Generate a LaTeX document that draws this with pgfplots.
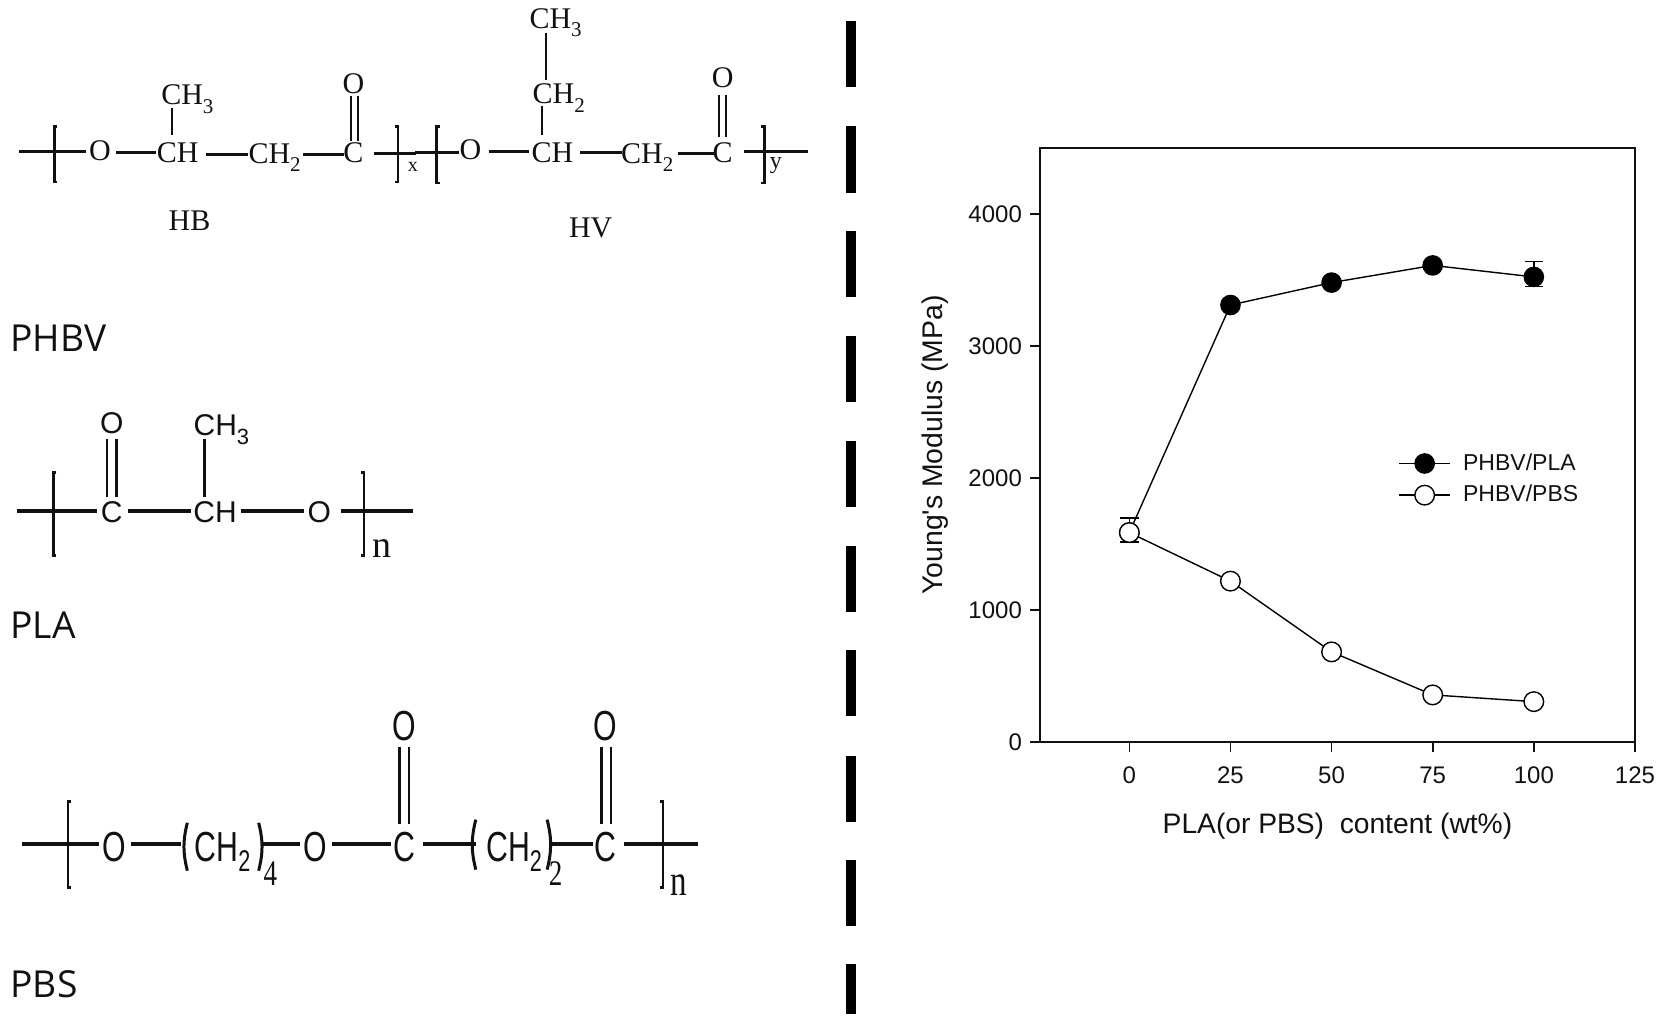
\documentclass[border=0pt]{standalone}
\usepackage{pgfplots}
\pgfplotsset{compat=1.18}
\usepackage{fontspec}
\setmainfont{Liberation Sans}
\newfontfamily\rawsans{Liberation Sans}
\newfontfamily\tms{Liberation Serif}
\newfontfamily\opn{Open Sans}
\definecolor{ink}{HTML}{111111}
\newcommand{\fs}[1]{\fontsize{#1}{#1}\selectfont}
% atom labels: x, y of the cap-height centre, text
\newcommand{\T}[3]{\node[anchor=base,inner sep=0pt,text=ink] at (#1,#2+9.5) {\tms\fs{15}#3};}
\newcommand{\A}[3]{\node[anchor=base,inner sep=0pt,text=ink] at (#1,#2+9.5) {\fs{15}#3};}
\newcommand{\N}[3]{\node[anchor=base,inner sep=0pt,text=ink] at (#1,#2+14) {\scalebox{.72}[1]{\fs{21}#3}};}
\newcommand{\subT}[1]{\raisebox{-.28em}{\fs{10.5}#1}}
\newcommand{\subA}[1]{\raisebox{-.28em}{\fs{11}#1}}
\newcommand{\subN}[1]{\raisebox{-.25em}{\fs{15}#1}}
\newcommand{\brL}[3]{\draw[line width=1.3pt,ink] (#1+3,#2)--(#1,#2)--(#1,#3)--(#1+3,#3);}
\newcommand{\brR}[3]{\draw[line width=1.3pt,ink] (#1-3,#2)--(#1,#2)--(#1,#3)--(#1-3,#3);}
\begin{document}
\begin{tikzpicture}
\begin{scope}[x=0.5322pt,y=-0.5322pt]
\path (0,0) rectangle (1568,958);
% divider
\foreach \a/\b in {20/82,118/181,217/279,316/378,414/476,513/575,611/673,710/772,808/870,906/953}
  \fill[black] (795,\a) rectangle (804,\b);
% ---------- PHBV
\begin{scope}[line width=1.5pt,ink]
\draw (18,142)--(81,142);
\draw (109,143.5)--(147,143.5);
\draw (194,145)--(233,145);
\draw (285,145)--(323,145);
\draw (351,144.5)--(391,144.5);
\draw (390,143.5)--(431,143.5);
\draw (459,142.5)--(497,142.5);
\draw (545,143.5)--(584,143.5);
\draw (637,144)--(671,144);
\draw (699,142)--(759,142);
\end{scope}
\begin{scope}[line width=1.05pt,ink]
\draw (162,101)--(162,127);
\draw (329.5,90)--(329.5,132);
\draw (336,90)--(336,132);
\draw (509,100)--(509,127);
\draw (513,31)--(513,75);
\draw (675.5,89)--(675.5,129);
\draw (682,89)--(682,129);
\end{scope}
\brL{51}{119}{171}
\brR{374}{119}{171}
\brL{410}{119}{172}
\brR{718}{119}{172}
\T{94}{141}{O}
\T{167}{143.5}{CH}
\T{176}{89}{CH\subT{3}}
\T{258}{144}{CH\subT{2}}
\T{332}{143.5}{C}
\T{332}{78}{O}
\node[inner sep=0pt,text=ink] at (388,157) {\tms\fs{10}x};
\T{442}{140}{O}
\T{519}{143.5}{CH}
\T{525}{88}{CH\subT{2}}
\T{522}{17}{CH\subT{3}}
\T{608}{144}{CH\subT{2}}
\T{679}{143.5}{C}
\T{679}{73}{O}
\node[inner sep=0pt,text=ink] at (729,156) {\tms\fs{12}y};
\T{178}{207}{HB}
\T{555}{214}{HV}
\node[anchor=base west,inner sep=0pt,text=ink] at (9.5,330) {\opn\fs{18.6}PHBV};
% ---------- PLA
\begin{scope}[line width=1.6pt,ink]
\draw (16,480)--(91,480);
\draw (120,480)--(179,480);
\draw (226,480)--(286,480);
\draw (320,480)--(388,480);
\draw (192,412)--(192,467);
\draw[line width=1.2pt] (100.5,412)--(100.5,467);
\draw[line width=1.2pt] (109.5,412)--(109.5,467);
\end{scope}
\brL{50}{444}{522}
\brR{342}{444}{522}
\A{105}{481}{C}
\A{202}{481}{CH}
\A{300}{481}{O}
\A{105}{398}{O}
\A{208}{400}{CH\subA{3}}
\node[anchor=base,inner sep=0pt,text=ink] at (359,524) {\tms\fs{19}n};
\node[anchor=base west,inner sep=0pt,text=ink] at (9.5,600) {\opn\fs{18.6}PLA};
% ---------- PBS
\begin{scope}[line width=1.9pt,ink]
\draw (21,793)--(93,793);
\draw (123,793)--(170,793);
\draw (245,793)--(282,793);
\draw (312,793)--(367,793);
\draw (397,793)--(447,793);
\draw (517,793)--(557,793);
\draw (586,793)--(656,793);
\end{scope}
\begin{scope}[line width=1.2pt,ink]
\draw (375.5,702)--(375.5,774);
\draw (384,702)--(384,774);
\draw (565,702)--(565,774);
\draw (574,702)--(574,774);
\draw[line width=1.5pt] (176,773) to[bend right=14] (176,818);
\draw[line width=1.5pt] (243,773) to[bend left=14] (243,818);
\draw[line width=1.5pt] (447,770) to[bend right=14] (447,817);
\draw[line width=1.5pt] (514,770) to[bend left=14] (514,817);
\end{scope}
\brL{64}{753}{834}
\brR{623}{753}{834}
\N{107}{795}{O}
\N{209}{795}{CH\subN{2}}
\node[anchor=base,inner sep=0pt,text=ink] at (254,832) {\scalebox{.75}[1]{\tms\fs{18}4}};
\N{296}{795}{O}
\N{380}{795}{C}
\N{380}{682}{O}
\N{483}{795}{CH\subN{2}}
\node[anchor=base,inner sep=0pt,text=ink] at (522,832) {\scalebox{.75}[1]{\tms\fs{18}2}};
\N{569}{795}{C}
\N{569}{682}{O}
\node[anchor=base,inner sep=0pt,text=ink] at (638,841) {\scalebox{.75}[1]{\tms\fs{22}n}};
\node[anchor=base west,inner sep=0pt,text=ink] at (9.5,937) {\opn\fs{18.6}PBS};
\end{scope}
% ---------- chart
\begin{axis}[
  at={(519.96pt,-370.94pt)}, anchor=south west,
  scale only axis, width=297.5pt, height=296.97pt,
  xmin=-22.1, xmax=125, ymin=0, ymax=4500,
  xtick={0,25,50,75,100,125}, ytick={0,1000,2000,3000,4000},
  tick align=outside, tick pos=left,
  major tick length=5pt,
  axis line style={line width=.8pt,color=ink},
  tick style={line width=.8pt,color=ink},
  tick label style={font=\fs{12}, /pgf/number format/assume math mode=true, /pgf/number format/1000 sep={}, text=ink},
  xticklabel style={yshift=-4pt},
  yticklabel style={xshift=-.5pt},
  xlabel={PLA(or PBS)\ \ content (wt\%)},
  ylabel={Young{\rawsans\char39}s Modulus (MPa)},
  xlabel style={font=\fs{14.1}, text=ink, at={(axis description cs:0.5,0)}, anchor=base, yshift=-46pt},
  ylabel style={font=\fs{14.2}, text=ink, at={(axis description cs:0,0.5)}, anchor=base, yshift=48.6pt},
  legend cell align=left,
  legend style={draw=none, fill=none, at={(axis cs:18,2000)}, font=\fs{11.5}, text=ink, anchor=west, xshift=98pt, yshift=-.7pt,
    row sep=2pt, inner sep=0pt},
  legend image code/.code={\draw[mark repeat=2,mark phase=2,#1] plot coordinates {(0,0) (12.7pt,0) (25.4pt,0)};},
]
\addplot[color=black, line width=.7pt, mark=*, mark size=4.9pt, mark options={fill=black,line width=.5pt},
  error bars/.cd, y dir=both, y explicit, error bar style={line width=.7pt}, error mark options={rotate=90,mark size=4.6pt,line width=.8pt}]
  coordinates {(0,1586) += (0,110) -= (0,70)
   (25,3310) (50,3480) (75,3610)
   (100,3523) += (0,117) -= (0,73)};
\addlegendentry{\hspace*{4.2pt}PHBV/PLA}
\addplot[color=black, line width=.7pt, mark=*, mark size=4.9pt, mark options={fill=white,line width=.7pt},
  error bars/.cd, y dir=both, y explicit, error bar style={line width=.7pt}, error mark options={rotate=90,mark size=4.6pt,line width=.8pt}]
  coordinates {(0,1586) += (0,110) -= (0,70)
   (25,1218) (50,682) (75,356) (100,305)};
\addlegendentry{\hspace*{4.2pt}PHBV/PBS}
\end{axis}
\end{tikzpicture}
\end{document}
